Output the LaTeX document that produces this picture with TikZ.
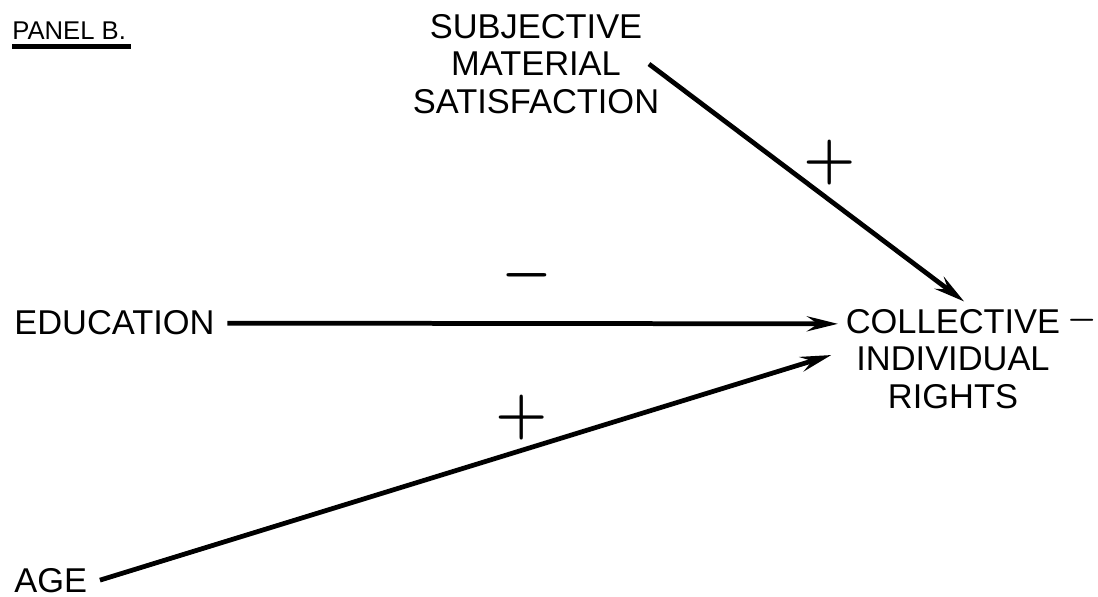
\documentclass[tikz,border=0pt]{standalone}
\usepackage{fontspec}
\setmainfont{Liberation Sans}
\usetikzlibrary{arrows.meta, positioning}

\begin{document}
\begin{tikzpicture}[
    x=0.02cm, y=-0.02cm,
    var/.style={align=center, inner sep=0.25cm, font=\fontsize{19.6}{21.3}\selectfont},
    sign/.style={inner sep=0, font=\Huge\boldmath},
    arrow/.style={-{Stealth[length=0.62cm, width=0.3cm, inset=0.22cm]}, line width=0.095cm}
]
\useasboundingbox (0,0) rectangle (1098,597);

\node[inner sep=0, anchor=base west, font=\fontsize{14.6}{15}\selectfont] (panel) at (12,40) {PANEL B.};
\draw[line width=0.09cm] ([yshift=-0.12cm]panel.south west) -- ([yshift=-0.12cm,xshift=0.1cm]panel.south east);

\node[var] (subj) at (536,64) {SUBJECTIVE\\MATERIAL\\SATISFACTION};
\node[var, anchor=base west] (edu) at (1.5,335) {EDUCATION};
\node[var, anchor=base west] (age) at (1.5,592) {AGE};
\node[var, inner sep=0.15cm] (target) at (953,359) {COLLECTIVE\\INDIVIDUAL\\RIGHTS};
\node[sign] (dash) at (1082,320) {\scalebox{0.75}{$-$}};

\draw[arrow] ([xshift=-0.46cm]subj.east) -- (target.79);
\draw[arrow] (edu.east) -- (target.163);
\draw[arrow, shorten >=0.14cm] (age.east) -- (target.177);

\node[sign] (plusS) at (830,163) {\scalebox{1.37}{$+$}};
\node[sign] (minusE) at (527,275) {\scalebox{1.3}{$-$}};
\node[sign] (plusA) at (522,418) {\scalebox{1.37}{$+$}};
\end{tikzpicture}
\end{document}
